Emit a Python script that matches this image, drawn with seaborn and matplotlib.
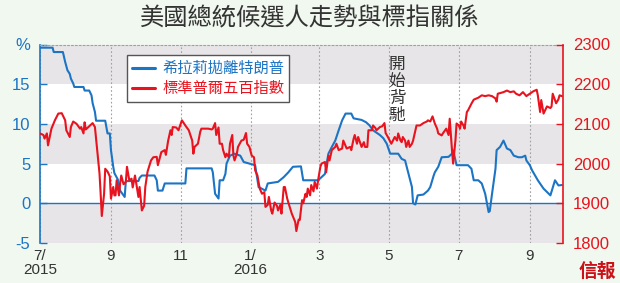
import numpy as np
import pandas as pd
import matplotlib
matplotlib.use("Agg")
import matplotlib.pyplot as plt
from matplotlib.lines import Line2D
import seaborn as sns

# ---------------- data ----------------
title = "美國總統候選人走勢與標指關係"
clinton_label = "希拉莉拋離特朗普"
spx_label = "標準普爾五百指數"
note = "開始背馳"
logo = "信報"

start_date = "2015-07-01"
# Clinton lead over Trump (%), days since start_date
lead_days = [0, 11, 12, 20, 22, 24, 26, 27, 29, 30, 38, 39, 43, 45, 46, 48, 49, 57, 58, 59,
             61, 62, 64, 65, 68, 70, 73, 74, 75, 86, 87, 89, 100, 102, 103, 107, 109, 127, 128, 150,
             151, 153, 156, 157, 160, 162, 163, 166, 170, 175, 178, 183, 188, 191, 197, 199, 208, 213, 217, 221,
             228, 230, 243, 246, 249, 252, 255, 258, 261, 264, 267, 272, 274, 281, 285, 288, 291, 297, 300, 303,
             306, 313, 316, 319, 322, 325, 326, 328, 330, 335, 339, 341, 344, 345, 348, 351, 357, 360, 361, 363,
             364, 374, 377, 379, 383, 386, 389, 392, 393, 395, 398, 399, 402, 405, 408, 411, 414, 418, 421, 424,
             425, 428, 430, 435, 440, 446, 450, 453, 456]
lead_vals = [19.6, 19.6, 19.05, 19.05, 17.8, 16.75, 16.3, 15.7, 15.1, 14.65, 14.65, 14.2, 14.2, 13.6, 12.6, 11.5, 10.4, 10.4, 9.6, 8.8,
             8.8, 6.7, 4.6, 3.8, 3.0, 1.6, 1.0, 0.8, 2.8, 2.8, 3.2, 3.5, 3.5, 2.9, 1.6, 1.6, 2.5, 2.5, 4.4, 4.4,
             3.9, 1.2, 0.6, 2.9, 2.9, 3.7, 5.0, 6.0, 6.25, 6.0, 5.2, 5.0, 4.8, 2.05, 1.6, 2.5, 2.7, 3.3, 3.9, 4.6,
             4.65, 2.9, 2.9, 3.3, 3.7, 6.25, 7.1, 7.9, 9.2, 10.45, 11.3, 11.3, 10.7, 10.5, 10.2, 9.8, 9.2, 8.6, 8.2, 7.5,
             6.25, 6.25, 5.6, 5.4, 3.7, 2.05, 0.0, -0.15, 1.0, 1.1, 1.6, 2.05, 3.5, 3.9, 4.6, 5.8, 5.85, 6.25, 6.7, 5.4,
             4.8, 4.8, 4.35, 2.9, 2.9, 2.5, 1.2, -1.1, -1.0, 1.2, 4.35, 6.7, 7.1, 7.9, 6.9, 6.7, 6.0, 5.8, 5.8, 6.0,
             5.4, 4.8, 4.15, 2.9, 1.85, 1.0, 2.9, 2.25, 2.3]

# S&P 500 index, days since start_date
spx_days = [0, 3, 4, 6, 7, 8, 10, 13, 16, 19, 22, 23, 26, 27, 29, 32, 35, 36, 38, 39,
            40, 43, 46, 48, 50, 52, 53, 54, 56, 57, 59, 61, 62, 64, 65, 66, 67, 69, 70, 71,
            73, 75, 76, 78, 80, 81, 83, 86, 87, 89, 91, 92, 94, 97, 99, 102, 103, 106, 109, 110,
            112, 114, 115, 116, 119, 121, 124, 127, 130, 133, 134, 135, 138, 140, 141, 147, 150, 151, 153, 154,
            156, 157, 159, 160, 162, 163, 165, 166, 168, 169, 170, 172, 173, 176, 178, 180, 181, 183, 185, 187,
            188, 190, 192, 194, 196, 197, 199, 200, 202, 203, 205, 207, 208, 210, 211, 213, 214, 216, 217, 220,
            223, 224, 226, 227, 229, 230, 232, 233, 234, 236, 237, 239, 240, 242, 243, 245, 246, 249, 250, 252,
            253, 255, 258, 259, 261, 264, 265, 268, 271, 272, 274, 275, 277, 278, 281, 283, 284, 286, 287, 290,
            291, 293, 294, 297, 299, 301, 302, 304, 307, 310, 312, 313, 315, 316, 317, 319, 320, 322, 323, 325,
            326, 328, 329, 332, 335, 338, 339, 341, 343, 345, 347, 348, 351, 352, 354, 355, 357, 358, 360, 361,
            363, 364, 366, 367, 368, 370, 371, 373, 374, 377, 379, 383, 386, 389, 392, 395, 398, 399, 400, 405,
            408, 411, 414, 416, 419, 422, 425, 428, 431, 434, 435, 437, 438, 440, 443, 446, 447, 448, 450, 451,
            453, 454, 456]
spx_vals = [2076, 2072, 2063, 2076, 2046, 2060, 2088, 2109, 2126, 2127, 2109, 2084, 2067, 2092, 2106, 2100, 2088, 2092, 2076, 2104,
            2086, 2094, 2102, 2092, 2034, 1975, 1924, 1868, 1924, 1987, 1980, 1968, 1912, 1941, 1920, 1920, 1958, 1920, 1950, 1970,
            1948, 1954, 1992, 1958, 1962, 1940, 1970, 1916, 1941, 1882, 1894, 1941, 1980, 2008, 2016, 2017, 1996, 2029, 2034, 2022,
            2058, 2084, 2072, 2092, 2091, 2084, 2109, 2096, 2084, 2058, 2025, 2042, 2050, 2080, 2088, 2088, 2086, 2088, 2102, 2072,
            2091, 2050, 2050, 2034, 2016, 2025, 2016, 2050, 2072, 2020, 2008, 2025, 2042, 2058, 2060, 2077, 2050, 2042, 2020, 2016,
            1983, 1970, 1937, 1924, 1928, 1891, 1896, 1916, 1882, 1874, 1902, 1894, 1882, 1896, 1874, 1941, 1941, 1912, 1902, 1874,
            1853, 1830, 1859, 1858, 1908, 1900, 1924, 1916, 1937, 1920, 1946, 1930, 1954, 1937, 1958, 1992, 2000, 2004, 1978, 2020,
            2008, 2034, 2042, 2050, 2034, 2038, 2058, 2038, 2042, 2034, 2062, 2072, 2050, 2067, 2042, 2054, 2042, 2042, 2084, 2084,
            2096, 2090, 2084, 2092, 2094, 2102, 2077, 2067, 2050, 2067, 2058, 2076, 2058, 2054, 2067, 2058, 2042, 2058, 2042, 2050,
            2058, 2084, 2096, 2096, 2102, 2106, 2109, 2106, 2119, 2101, 2088, 2076, 2071, 2076, 2084, 2088, 2072, 2113, 2034, 2000,
            2058, 2101, 2096, 2088, 2106, 2096, 2088, 2130, 2134, 2151, 2161, 2166, 2172, 2170, 2172, 2170, 2164, 2156, 2176, 2180,
            2184, 2180, 2182, 2176, 2172, 2180, 2170, 2176, 2182, 2186, 2172, 2130, 2160, 2126, 2144, 2140, 2144, 2176, 2160, 2152,
            2162, 2172, 2170]

x_tick_dates = ["2015-07-01", "2015-09-01", "2015-11-01", "2016-01-01",
                "2016-03-01", "2016-05-01", "2016-07-01", "2016-09-01"]
x_tick_labels = ["7/\n2015", "9", "11", "1/\n2016", "3", "5", "7", "9"]
left_ticks = [-5, 0, 5, 10, 15, 20]
left_tick_labels = ["-5", "0", "5", "10", "15", "%"]
right_ticks = [1800, 1900, 2000, 2100, 2200, 2300]

# ---------------- style ----------------
BLUE = "#1c74c4"
RED = "#e8131e"
BG = "#f1f8f0"
BAND = "#e7e5e7"
TXT = "#333333"

sns.set_theme(style="white")
plt.rcParams["font.family"] = ["Liberation Sans", "Noto Sans CJK TC", "DejaVu Sans"]
plt.rcParams["ytick.alignment"] = "center_baseline"
CJK = ["Noto Sans CJK TC", "DejaVu Sans"]
NUM = ["Liberation Sans Narrow", "Liberation Sans", "DejaVu Sans"]

base = pd.Timestamp(start_date)
lead_df = pd.DataFrame({"date": base + pd.to_timedelta(lead_days, unit="D"), "lead": lead_vals})
spx_df = pd.DataFrame({"date": base + pd.to_timedelta(spx_days, unit="D"), "spx": spx_vals})

fig = plt.figure(figsize=(6.2, 2.83), dpi=100, facecolor=BG)
ax = fig.add_axes([40 / 620, 1 - 243 / 283, (563 - 40) / 620, (243 - 44.5) / 283])
ax.set_facecolor("white")
ax2 = ax.twinx()

# bands
for lo in (-5, 5, 15):
    ax.axhspan(lo, lo + 5, color=BAND, lw=0, zorder=1)
ax.axhline(0, color=BLUE, lw=1.0, zorder=1.8)

sns.lineplot(data=lead_df, x="date", y="lead", ax=ax, color=BLUE, lw=1.5, zorder=3)
sns.lineplot(data=spx_df, x="date", y="spx", ax=ax2, color=RED, lw=1.5, zorder=3)

ax.set_xlim(pd.Timestamp("2015-07-01"), pd.Timestamp("2016-09-30"))
ax.set_ylim(-5, 20)
ax2.set_ylim(1800, 2300)
ax.set_xlabel("")
ax.set_ylabel("")
ax2.set_ylabel("")

ax.set_xticks(pd.to_datetime(x_tick_dates))
ax.set_xticklabels(x_tick_labels, fontsize=11, color=TXT, linespacing=0.95)
ax.tick_params(axis="x", length=0, pad=4.5)
ax.grid(axis="x", ls=(0, (1.5, 2)), color="#a0a0a0", lw=0.8)
ax.set_axisbelow("line")

ax.set_yticks(left_ticks)
ax.set_yticklabels(left_tick_labels)
for t in ax.get_yticklabels():
    t.set_family(NUM)
ax.tick_params(axis="y", direction="in", length=5, width=1, color=BLUE,
               labelcolor=BLUE, labelsize=12, pad=7)
ax2.set_yticks(right_ticks)
ax2.tick_params(axis="y", direction="in", length=5, width=1, color=RED,
                labelcolor=RED, labelsize=12, pad=7)

for s in ("bottom", "right"):
    ax.spines[s].set_visible(False)
ax.spines["left"].set_color(BLUE)
ax.spines["left"].set_linewidth(1.2)
ax.spines["top"].set_color("#a0a0a0")
ax.spines["top"].set_linestyle((0, (1.5, 2)))
ax.spines["top"].set_linewidth(0.8)
for s in ("left", "top", "bottom"):
    ax2.spines[s].set_visible(False)
ax2.spines["right"].set_color(RED)
ax2.spines["right"].set_linewidth(1.2)

# legend
handles = [Line2D([], [], color=BLUE, lw=2.2), Line2D([], [], color=RED, lw=2.2)]
leg = ax2.legend(handles, [clinton_label, spx_label], loc="upper left",
                 bbox_to_anchor=(127 / 620, 1 - 55 / 283), bbox_transform=fig.transFigure,
                 borderaxespad=0, frameon=True, fancybox=False, framealpha=1,
                 edgecolor="#555555", facecolor="white", handlelength=1.5,
                 handletextpad=0.45, borderpad=0.35, labelspacing=0.18,
                 prop={"family": CJK, "size": 11})
leg.get_frame().set_linewidth(1.0)
leg.get_texts()[0].set_color(BLUE)
leg.get_texts()[1].set_color(RED)
leg.set_zorder(10)

# title, note, logo
fig.text(0.5, 1 - 18 / 283, title, ha="center", va="center", fontsize=17.5,
         color=TXT, family=CJK, weight="medium")
fig.text(397 / 620, 1 - 90 / 283, "\n".join(note), ha="center", va="center",
         fontsize=12, color=TXT, family=CJK, linespacing=1.0)
fig.text(616 / 620, 1 - 271 / 283, logo, ha="right", va="center", fontsize=13.5,
         color="#cc1018", family=CJK, weight="black")

fig.savefig("out.png", dpi=100, facecolor=BG)
